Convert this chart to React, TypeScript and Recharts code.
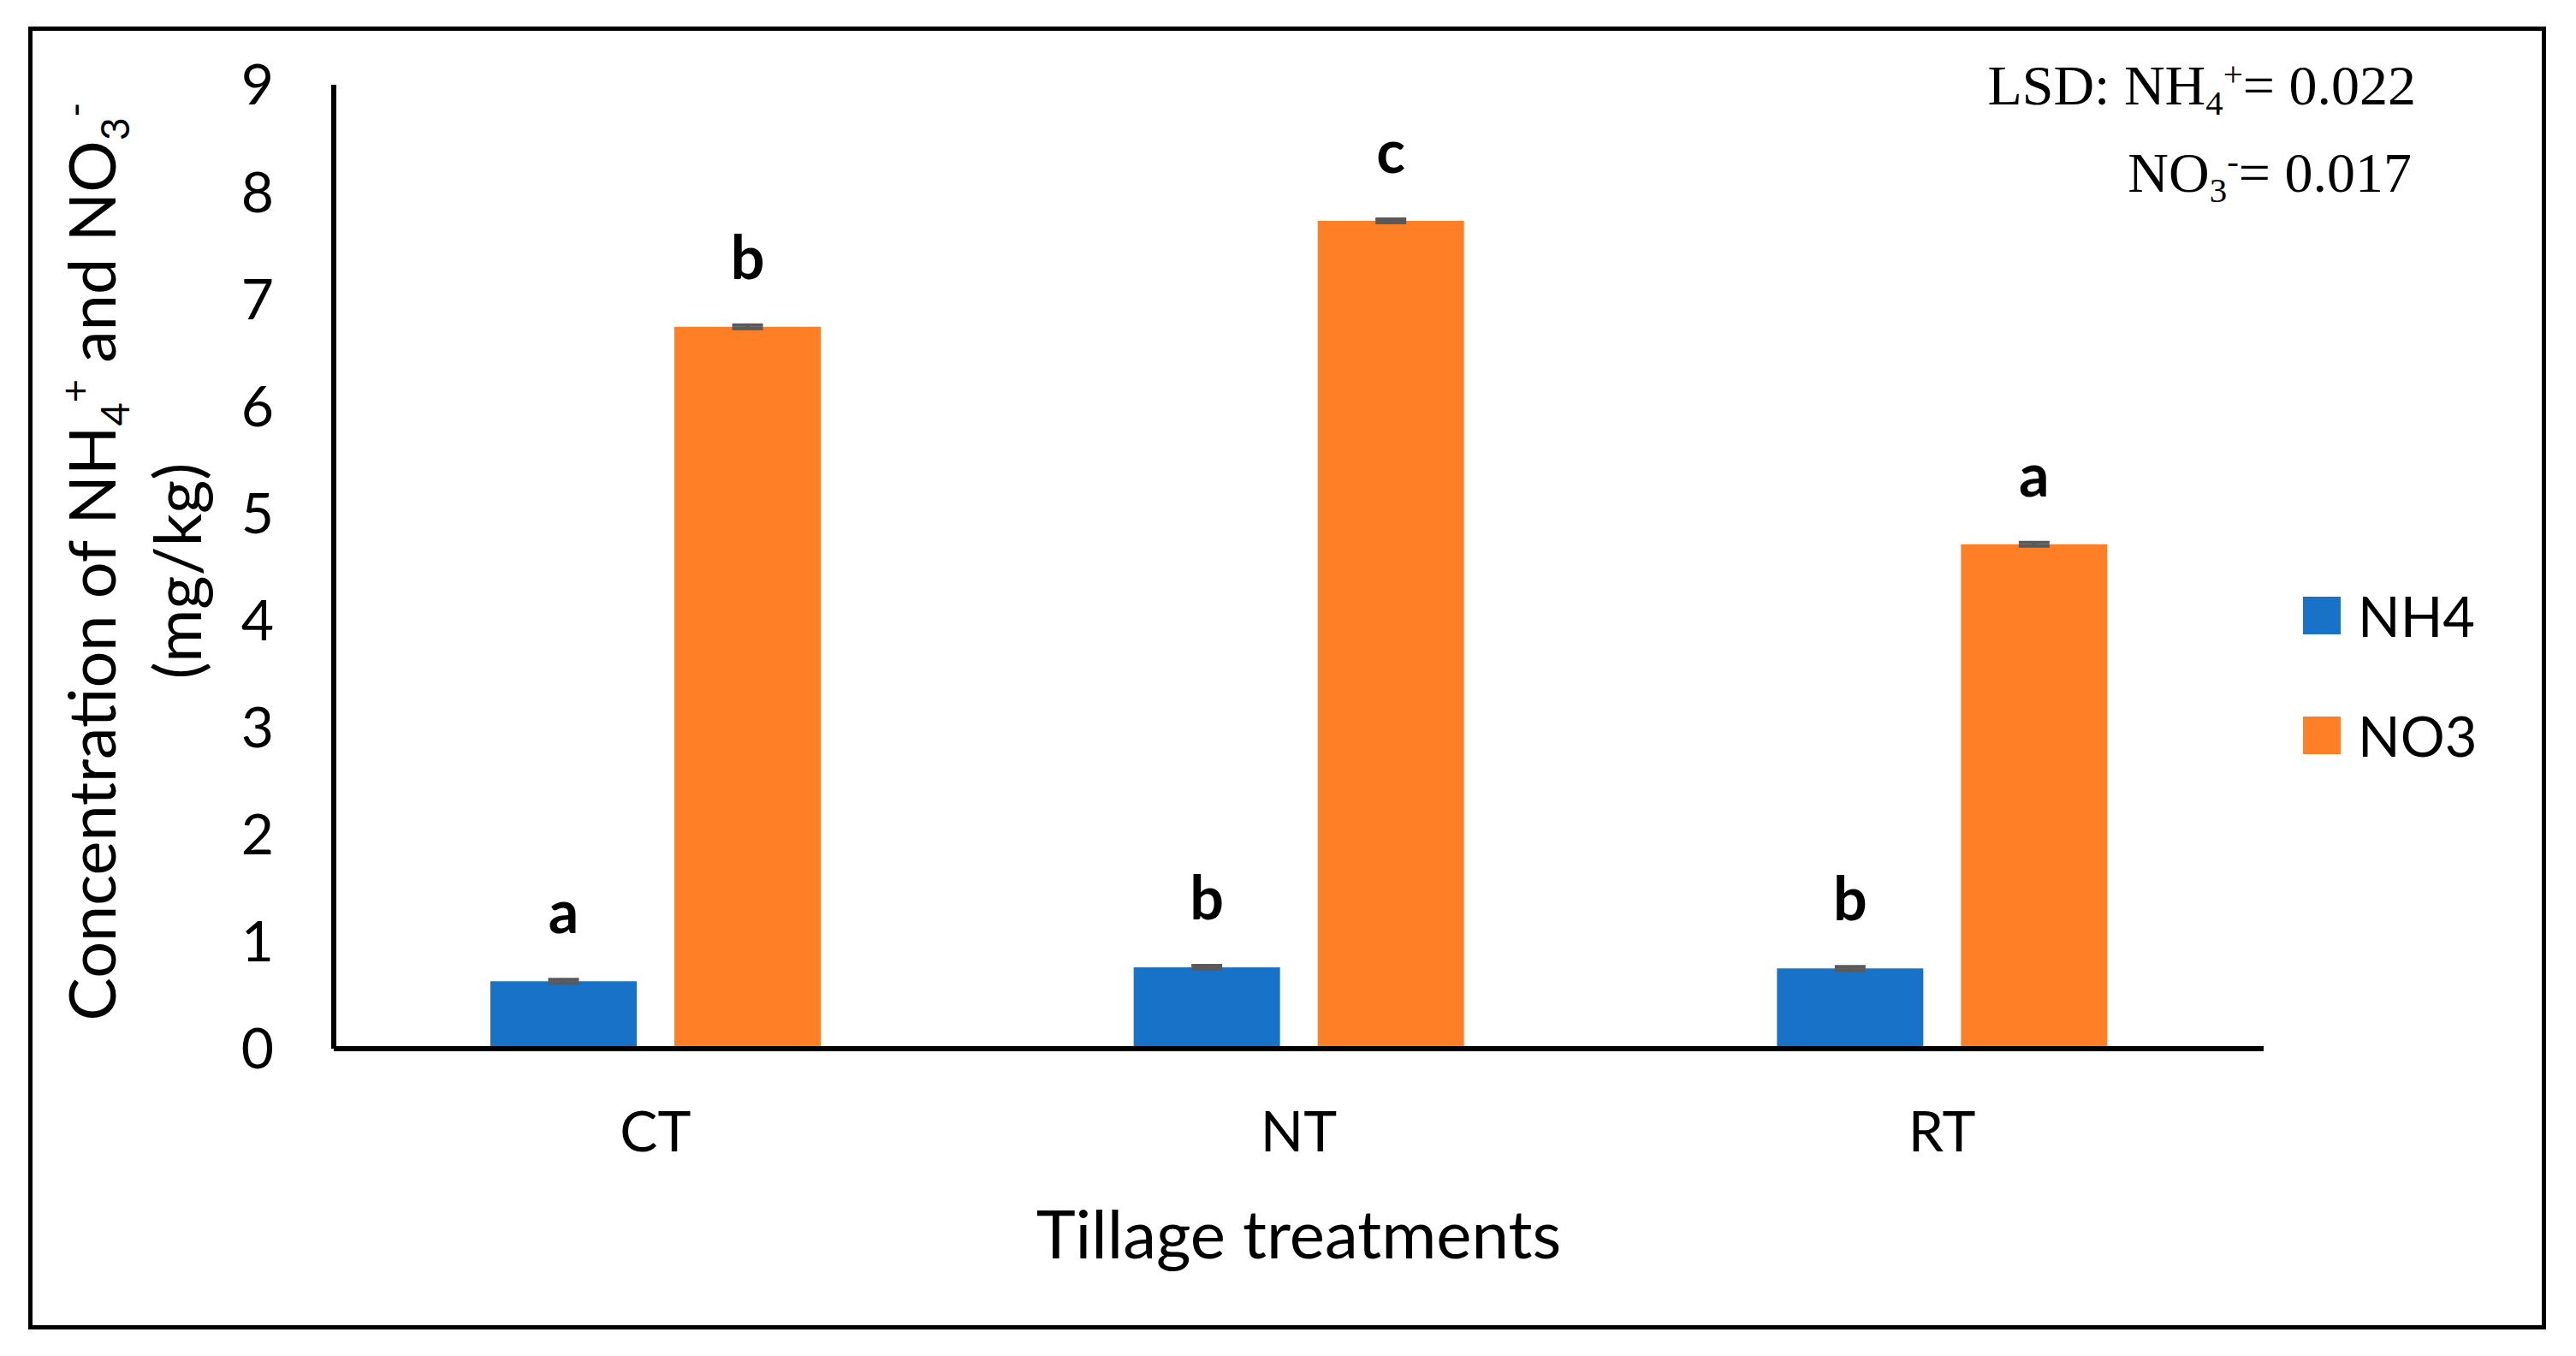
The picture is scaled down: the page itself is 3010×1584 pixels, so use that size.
import React from 'react';
import { BarChart, Bar, XAxis, YAxis, ErrorBar, LabelList, Legend, Label } from 'recharts';

const categories = ['CT', 'NT', 'RT'];
const nh4Values = [0.63, 0.76, 0.75];
const no3Values = [6.74, 7.73, 4.71];
const nh4Errors = [0.016, 0.016, 0.016];
const no3Errors = [0.016, 0.016, 0.016];
const nh4Letters = ['a', 'b', 'b'];
const no3Letters = ['b', 'c', 'a'];
const yTicks = [0, 1, 2, 3, 4, 5, 6, 7, 8, 9];

const data = categories.map((c, i) => ({
  name: c,
  NH4: nh4Values[i],
  NO3: no3Values[i],
  nh4Err: nh4Errors[i],
  no3Err: no3Errors[i],
  nh4Letter: nh4Letters[i],
  no3Letter: no3Letters[i],
}));

const BLUE = '#1872C8';
const ORANGE = '#FF7F27';
const SANS = 'Lato, "Open Sans", sans-serif';
const SERIF = '"Liberation Serif", "Times New Roman", serif';

const letterContent = (props: any) => {
  const { x, y, width, value } = props;
  return (
    <text
      x={Number(x) + Number(width) / 2}
      y={Number(y) - 56}
      textAnchor="middle"
      fontFamily={SANS}
      fontWeight={700}
      fontSize={70}
      fill="#000"
    >
      {value}
    </text>
  );
};

const YTitle = (props: any) => {
  const vb = props.viewBox || { x: 60, y: 99, width: 330, height: 1126 };
  const cy = vb.y + vb.height / 2;
  const x1 = vb.x + 75;
  const x2 = vb.x + 175;
  return (
    <g>
      <text
        transform={`translate(${x1},${cy - 6}) rotate(-90)`}
        textAnchor="middle"
        fontFamily={SANS}
        fontSize={75.5}
        fill="#000"
      >
        <tspan>Concentration of NH</tspan>
        <tspan fontSize={47} dy={16}>4</tspan>
        <tspan fontSize={47} dy={-47}>+</tspan>
        <tspan dy={31}> and NO</tspan>
        <tspan fontSize={47} dy={16}>3</tspan>
        <tspan fontSize={47} dy={-47}>-</tspan>
      </text>
      <text
        transform={`translate(${x2},${cy + 5}) rotate(-90)`}
        textAnchor="middle"
        fontFamily={SANS}
        fontSize={75.5}
        fill="#000"
      >
        (mg/kg)
      </text>
    </g>
  );
};

const XTitle = (props: any) => {
  const vb = props.viewBox || { x: 390, y: 1225, width: 2255, height: 300 };
  return (
    <text
      x={vb.x + vb.width / 2}
      y={vb.y + 245}
      textAnchor="middle"
      fontFamily={SANS}
      fontSize={78}
      fill="#000"
    >
      Tillage treatments
    </text>
  );
};

const LegendContent = (props: any) => {
  const payload = props.payload || [];
  return (
    <div style={{ display: 'flex', flexDirection: 'column', gap: 96 }}>
      {payload.map((p: any) => (
        <div key={p.value} style={{ display: 'flex', alignItems: 'flex-end', height: 44 }}>
          <div style={{ width: 44, height: 44, background: p.color, marginRight: 20 }} />
          <span
            style={{
              fontFamily: SANS,
              fontSize: 65,
              lineHeight: '44px',
              color: '#000',
              whiteSpace: 'nowrap',
            }}
          >
            {p.value}
          </span>
        </div>
      ))}
    </div>
  );
};

const subStyle: React.CSSProperties = { fontSize: '0.62em', position: 'relative', top: '0.3em', lineHeight: 0 };
const supStyle: React.CSSProperties = { fontSize: '0.62em', position: 'relative', top: '-0.55em', lineHeight: 0 };

export default function App() {
  return (
    <div
      style={{
        position: 'absolute',
        left: 0,
        top: 0,
        width: 3010,
        height: 1584,
        background: '#fff',
        overflow: 'hidden',
      }}
    >
      <div
        style={{
          position: 'absolute',
          left: 33,
          top: 31,
          width: 2942 - 10,
          height: 1522 - 10,
          border: '5px solid #000',
        }}
      />
      <div style={{ position: 'absolute', left: 0, top: 0 }}>
        <BarChart
          width={3010}
          height={1584}
          data={data}
          margin={{ top: 99, right: 365, bottom: 59, left: 60 }}
          barSize={171}
          barGap={44}
        >
          <XAxis
            dataKey="name"
            height={300}
            axisLine={{ stroke: '#000', strokeWidth: 6 }}
            tickLine={false}
            tickSize={0}
            tickMargin={73}
            tick={{ fill: '#000', fontSize: 66, fontFamily: SANS }}
          >
            <Label content={XTitle} />
          </XAxis>
          <YAxis
            width={330}
            domain={[0, 9]}
            ticks={yTicks}
            interval={0}
            axisLine={{ stroke: '#000', strokeWidth: 6 }}
            tickLine={false}
            tickSize={0}
            tickMargin={70}
            tick={{ fill: '#000', fontSize: 66, fontFamily: SANS }}
          >
            <Label content={YTitle} />
          </YAxis>
          <Legend
            layout="vertical"
            align="center"
            verticalAlign="middle"
            content={LegendContent}
            wrapperStyle={{ left: 2691, top: 697, width: 260 }}
          />
          <Bar dataKey="NH4" name="NH4" fill={BLUE} isAnimationActive={false}>
            <ErrorBar dataKey="nh4Err" width={18} strokeWidth={4} stroke="#595959" direction="y" isAnimationActive={false} />
            <LabelList dataKey="nh4Letter" content={letterContent} />
          </Bar>
          <Bar dataKey="NO3" name="NO3" fill={ORANGE} isAnimationActive={false}>
            <ErrorBar dataKey="no3Err" width={18} strokeWidth={4} stroke="#595959" direction="y" isAnimationActive={false} />
            <LabelList dataKey="no3Letter" content={letterContent} />
          </Bar>
        </BarChart>
      </div>
      <div
        style={{
          position: 'absolute',
          right: 187,
          top: 49,
          textAlign: 'right',
          fontFamily: SERIF,
          fontSize: 66,
          lineHeight: '102px',
          color: '#000',
          whiteSpace: 'nowrap',
        }}
      >
        <div>
          LSD: NH<span style={subStyle}>4</span>
          <span style={supStyle}>+</span>= 0.022
        </div>
        <div style={{ marginRight: 5 }}>
          NO<span style={subStyle}>3</span>
          <span style={supStyle}>-</span>= 0.017
        </div>
      </div>
    </div>
  );
}
